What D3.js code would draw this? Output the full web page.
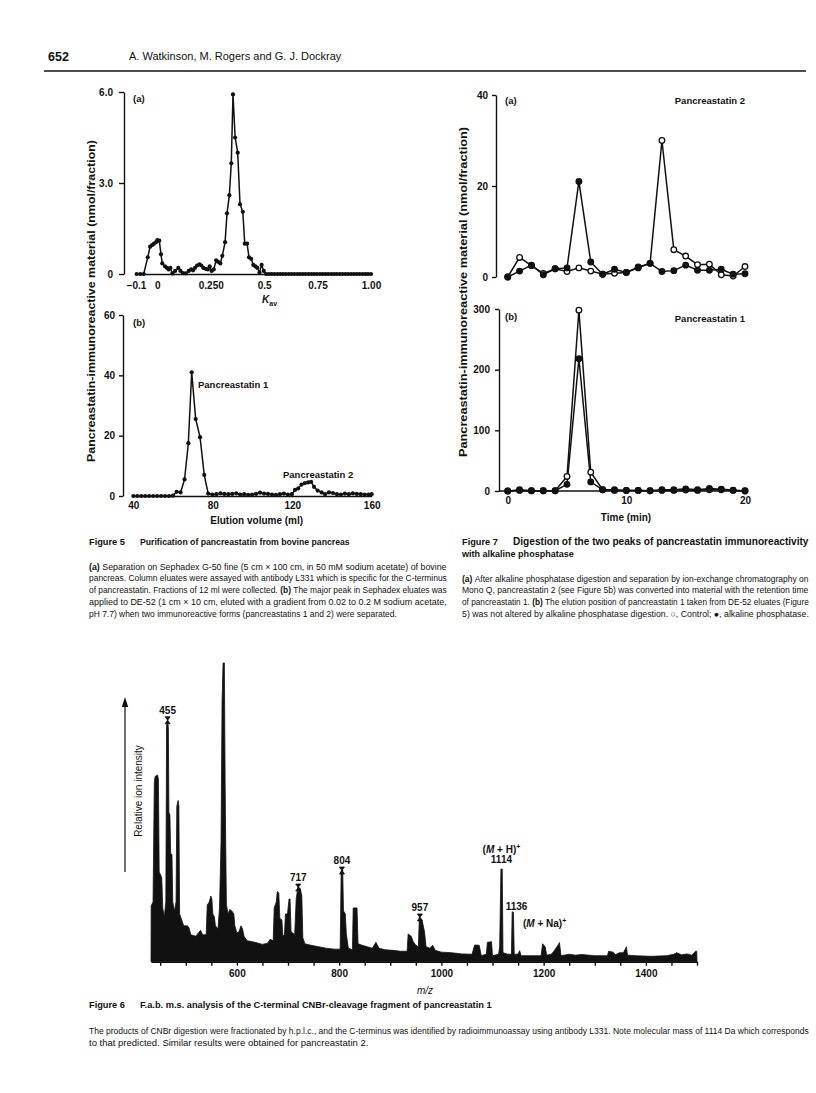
<!DOCTYPE html>
<html>
<head>
<meta charset="utf-8">
<script src="https://cdn.jsdelivr.net/npm/d3@7"></script>
<style>
  body { margin: 0; background: #fff; }
  svg text { font-family: "Liberation Sans", Arial, Helvetica, sans-serif; fill: #111; }
  svg text.cap { font-family: "Liberation Sans Narrow", "Arial Narrow", "Liberation Sans", sans-serif; }
</style>
</head>
<body>
<div id="page"></div>
<script>
// Figure 5a - Sephadex G-50 elution, Kav vs immunoreactivity (nmol/fraction)
var kavA = [-0.097,-0.080,-0.064,-0.045,-0.034,-0.025,-0.016,-0.006,0.000,0.009,
  0.017,0.023,0.036,0.045,0.053,0.061,0.070,0.083,0.098,0.108,
  0.120,0.133,0.147,0.158,0.167,0.176,0.186,0.197,0.206,0.215,
  0.226,0.236,0.245,0.254,0.264,0.275,0.284,0.295,0.304,0.317,
  0.326,0.337,0.346,0.354,0.364,0.376,0.387,0.400,0.409,0.420,
  0.429,0.439,0.449,0.459,0.468,0.478,0.488,0.498,0.509,
  0.522,0.535,0.548,0.562,0.575,0.588,0.601,0.615,0.628,0.641,
  0.655,0.668,0.681,0.694,0.708,0.721,0.734,0.747,0.761,0.774,
  0.787,0.800,0.814,0.827,0.840,0.854,0.867,0.880,0.893,0.907,
  0.920,0.933,0.946,0.960,0.973,0.986,1.000];
var nmolA = [0,0,0,0.55,0.9,0.95,1.0,1.05,1.12,1.1,
  0.65,0.35,0.25,0.2,0.15,0.2,0.02,0.1,0.2,0.1,
  0.03,0.02,0.1,0.15,0.12,0.2,0.28,0.32,0.28,0.2,
  0.17,0.15,0.25,0.1,0.15,0.45,0.4,0.35,0.6,1.05,
  2.0,2.6,3.65,5.92,4.5,4.0,2.3,2.05,1.0,1.0,
  0.55,0.5,0.3,0.25,0.2,0.05,0.3,0.1,0,
  0,0,0,0,0,0,0,0,0,0,
  0,0,0,0,0,0,0,0,0,0,
  0,0,0,0,0,0,0,0,0,0,
  0,0,0,0,0,0,0];
var kavTicks = [-0.1, 0, 0.25, 0.5, 0.75, 1.0];
var kavTickLabels = ["\u22120.1", "0", "0.250", "0.5", "0.75", "1.00"];
var nmolATicks = [0, 3, 6];

// Figure 5b - DE-52 elution
var elutionMl = [40,42,44,46,48,50,52,54,56,58,60,
  61.8,63.8,65.8,67.7,69.4,71.4,73.6,75.7,77.7,79.8,
  81.8,83.8,85.8,87.8,89.8,91.8,93.8,95.8,97.8,99.8,
  101.8,103.8,105.8,107.8,109.8,111.8,113.8,115.8,117.8,119.8,
  121.4,123,124.7,126.4,128,129.5,131,132.8,134.8,136.5,
  138.5,140.5,142.5,144.5,146.5,148.5,150.5,152.5,154.5,156.5,158.5,160];
var nmolB = [0,0,0,0,0,0,0,0,0,0,0.1,
  1.4,1.2,5.5,17.5,41,25.5,19.5,7,0.8,0.5,
  0.6,0.9,0.7,0.6,0.7,0.9,0.5,0.6,0.4,0.5,
  0.7,1.1,0.8,0.7,0.5,0.4,0.6,0.8,0.5,0.6,
  2,2.5,3.8,4.3,4.5,4.7,3,1.8,1.2,0.6,
  1.2,1.0,0.6,0.5,0.8,0.6,0.9,0.7,0.6,0.5,0.5,0.6];
var elutionTicks = [40, 80, 120, 160];
var nmolBTicks = [0, 20, 40, 60];

// Figure 7 - ion-exchange after alkaline phosphatase
var timeMin = [0,1,2,3,4,5,6,7,8,9,10,11,12,13,14,15,16,17,18,19,20];
var ps2Control = [0,4.3,2.5,0.8,1.8,1.2,2.0,1.3,0.6,0.8,1.0,2.2,3.0,30,6,4.6,2.7,2.8,0.5,0.2,2.3];
var ps2Phosphatase = [0,1.3,2.6,0.5,1.8,2.0,21,3.3,0.6,1.7,1.0,2.0,3.0,1.2,1.4,2.6,1.5,1.5,1.7,0.6,0.7];
var ps1Control = [0,1,0.5,0.5,0.5,24,298,31,2,1,1,1,0.5,1,1,1.5,1,2,2,1,0.5];
var ps1Phosphatase = [0,2,0.5,0.5,0.5,11,218,15,2,2,1,1,0.5,2,2,3.5,2,4,3,1.5,0];
var ps2Ticks = [0, 20, 40];
var ps1Ticks = [0, 100, 200, 300];
var timeTicks = [0, 10, 20];

// Figure 6 - f.a.b. mass spectrum (relative intensity, tallest peak = 100)
var mz = [432,432.3,436,438.5,440,445,446.5,448,451,453,455,458,461,462.5,464.5,466,467,469,470.5,473,
  474.5,478,481,482.5,485,486.5,488,492,496,503,506,510,520,524,529,533,540,542,546,549,
  551,553,556,558,563,566,569,571,573,575.5,577,578,579.5,583,586,590,594,596,600,604,
  608,611,614,620,630,640,650,660,665,671,673,677,679,682,684,688,690,693,695,699,
  702,704,706,710,713,716,719.5,724,727,729,733,745,760,775,790,802,804,807,808.5,812,
  814,818,826,827.5,835,837,845,855,865,872,878,890,905,920,933,935,941,945,950,955,
  957,962,964,967,970,978,983,988,1000,1020,1040,1060,1065,1074,1078,1088,1090,1098,1100,1112,
  1114,1116.5,1119,1120.5,1130,1137,1138.5,1141,1142.5,1150,1153,1156,1195,1198,1203,1206,1215,1220,1228,1231,
  1234,1250,1262,1275,1300,1325,1327,1336,1340,1348,1356,1362,1364,1380,1410,1440,1455,1460,1470,1480,
  1490,1497,1499.5,1500];
var intensity = [0,18.7,20,60,62,62.5,61,30,29,28,18,15,20,79,81,78,50,49,36,36,
  20,17,20,52,54,52,16,14,12,12,11.5,9,8.5,9.5,10.5,9,9,19,20,22,
  21,16,15,12,11,18,40,87,100,100,60,42,19,16,17.5,17,16,12,9.6,10,
  12,11,8.5,7,6.7,6.3,5.8,6.2,7.5,7,18,20,23.5,23,14.5,14,8.5,9,16,16,
  21,21,10,9.5,9,21,25,24.5,22,8,6,5.5,5,4.5,4.2,4.2,30.5,30.7,17,16,
  9.5,4.5,4,18,18,6,5.5,5,4.5,6.5,4.5,4,3.8,3.5,3.5,9.3,8.5,6.7,5.5,5,
  15,14,12.5,10,5,4.5,5.5,3.8,3.2,3,2.6,2.5,5.6,5.5,2,2.5,6.5,6.7,2,2.5,
  5,31,31,3,2.5,2.5,16.7,16.5,2.5,2.5,3.7,2,2,6,5,2.2,2.5,3.5,5.5,6.4,
  2,2.5,2.2,2.4,2,2,3.5,3.2,2.3,3,3,5,2.2,2,1.8,2,2.5,3,2.3,2.6,
  2.2,3.5,3.5,0];
var mzTicks = d3.range(450, 1501, 50);
var mzLabelled = [600, 800, 1000, 1200, 1400];
var peakText = ["455", "717", "804", "957", "1114"];
var peakMz = [464.5, 720, 805.5, 958, 1117.5];

var ink = "#111";
var svg = d3.select("#page").append("svg")
  .attr("width", 816)
  .attr("height", 1093);
svg.append("rect").attr("width", 816).attr("height", 1093).attr("fill", "#fff");

function styleAxis(g, size) {
  g.selectAll("path.domain").attr("stroke", ink).attr("stroke-width", 1.4);
  g.selectAll(".tick line").attr("stroke", ink).attr("stroke-width", 1.4);
  g.selectAll(".tick text").attr("fill", ink)
    .style("font-size", (size || 10) + "px").style("font-weight", "bold");
  return g;
}

function label(x, y, txt, opts) {
  opts = opts || {};
  var t = svg.append("text").attr("x", x).attr("y", y).text(txt)
    .attr("font-size", opts.size || 9.5)
    .attr("font-weight", opts.weight || "bold")
    .attr("text-anchor", opts.anchor || "start");
  return t;
}

function yTitle(x, yc, len, txt) {
  svg.append("text")
    .attr("transform", `translate(${x},${yc}) rotate(-90)`)
    .attr("text-anchor", "middle")
    .attr("font-size", 10.5).attr("font-weight", "bold")
    .attr("textLength", len).attr("lengthAdjust", "spacingAndGlyphs")
    .text(txt);
}

// header
svg.append("text").attr("x", 48).attr("y", 61).attr("font-size", 12.5).attr("font-weight", "bold").text("652");
svg.append("text").attr("x", 129).attr("y", 60).attr("font-size", 11).text("A. Watkinson, M. Rogers and G. J. Dockray");
svg.append("line").attr("x1", 44).attr("x2", 806).attr("y1", 71).attr("y2", 71)
  .attr("stroke", ink).attr("stroke-width", 1.4);

// ---------- Figure 5a
var x5a = d3.scaleLinear().domain([-0.1, 1.0]).range([136, 371]);
var y5a = d3.scaleLinear().domain([0, 6]).range([274, 92]);

styleAxis(svg.append("g").attr("transform", "translate(124,0)")
  .call(d3.axisLeft(y5a).tickValues(nmolATicks).tickFormat(d => d === 0 ? "0" : d.toFixed(1))
    .tickSize(5).tickSizeOuter(0).tickPadding(6)));
styleAxis(svg.append("g").attr("transform", `translate(0,${y5a(0)})`)
  .call(d3.axisBottom(x5a).tickValues(kavTicks).tickFormat((d, i) => kavTickLabels[i])
    .tickSize(0).tickSizeOuter(0).tickPadding(8)));

var line5a = d3.line().x(d => x5a(d[0])).y(d => y5a(d[1]));
var pts5a = d3.zip(kavA, nmolA);
svg.append("path").datum(pts5a).attr("d", line5a)
  .attr("fill", "none").attr("stroke", ink).attr("stroke-width", 1.5);
svg.append("g").selectAll("circle").data(pts5a).join("circle")
  .attr("cx", d => x5a(d[0])).attr("cy", d => y5a(d[1])).attr("r", 2.1).attr("fill", ink);

label(133, 101.5, "(a)");
var kav = svg.append("text").attr("x", 262).attr("y", 303).attr("font-size", 10).attr("font-weight", "bold");
kav.append("tspan").attr("font-style", "italic").text("K");
kav.append("tspan").attr("font-size", 7).attr("dy", 3).text("av");

// ---------- Figure 5b
var x5b = d3.scaleLinear().domain([40, 160]).range([133.3, 371.7]);
var y5b = d3.scaleLinear().domain([0, 60]).range([496, 315]);

styleAxis(svg.append("g").attr("transform", "translate(123,0)")
  .call(d3.axisLeft(y5b).tickValues(nmolBTicks).tickSize(4).tickSizeOuter(0).tickPadding(4)));
styleAxis(svg.append("g").attr("transform", `translate(0,${y5b(0)})`)
  .call(d3.axisBottom(x5b).tickValues(elutionTicks).tickSize(0).tickSizeOuter(0).tickPadding(6)));

var pts5b = d3.zip(elutionMl, nmolB);
svg.append("path").datum(pts5b)
  .attr("d", d3.line().x(d => x5b(d[0])).y(d => y5b(d[1])))
  .attr("fill", "none").attr("stroke", ink).attr("stroke-width", 1.5);
svg.append("g").selectAll("circle").data(pts5b).join("circle")
  .attr("cx", d => x5b(d[0])).attr("cy", d => y5b(d[1])).attr("r", 2.1).attr("fill", ink);

label(133, 325.5, "(b)");
label(198, 387.5, "Pancreastatin 1");
label(283, 477.5, "Pancreastatin 2");
label(256.7, 523.5, "Elution volume (ml)", { anchor: "middle", size: 10 });

yTitle(95, 301, 322, "Pancreastatin-immunoreactive material (nmol/fraction)");

// ---------- Figure 7
var x7 = d3.scaleLinear().domain([0, 20]).range([507.7, 745]);
var y7a = d3.scaleLinear().domain([0, 40]).range([277, 95]);
var y7b = d3.scaleLinear().domain([0, 300]).range([491, 309]);

styleAxis(svg.append("g").attr("transform", "translate(496,0)")
  .call(d3.axisLeft(y7a).tickValues(ps2Ticks).tickSize(4).tickSizeOuter(0).tickPadding(4)));
styleAxis(svg.append("g").attr("transform", "translate(499,0)")
  .call(d3.axisLeft(y7b).tickValues(ps1Ticks).tickSize(4).tickSizeOuter(0).tickPadding(5)));
var ax7 = styleAxis(svg.append("g").attr("transform", `translate(0,${y7b(0)})`)
  .call(d3.axisBottom(x7).tickValues(timeTicks).tickSize(3).tickSizeOuter(0).tickPadding(3)));
ax7.select("path.domain").remove();
svg.append("line").attr("x1", 499).attr("x2", 747).attr("y1", y7b(0)).attr("y2", y7b(0))
  .attr("stroke", ink).attr("stroke-width", 1.4);

function drawSeries(values, yScale) {
  var pts = d3.zip(timeMin, values);
  svg.append("path").datum(pts)
    .attr("d", d3.line().x(d => x7(d[0])).y(d => yScale(d[1])))
    .attr("fill", "none").attr("stroke", ink).attr("stroke-width", 1.5);
  return pts;
}
function drawMarks(pts, yScale, open) {
  svg.append("g").selectAll("circle").data(pts).join("circle")
    .attr("cx", d => x7(d[0])).attr("cy", d => yScale(d[1])).attr("r", 2.8)
    .attr("fill", open ? "#fff" : ink).attr("stroke", ink).attr("stroke-width", 1.3);
}
var a1 = drawSeries(ps2Control, y7a), a2 = drawSeries(ps2Phosphatase, y7a);
drawMarks(a1, y7a, true); drawMarks(a2, y7a, false);
var b1 = drawSeries(ps1Control, y7b), b2 = drawSeries(ps1Phosphatase, y7b);
drawMarks(b1, y7b, true); drawMarks(b2, y7b, false);

label(505, 104, "(a)");
label(745, 104, "Pancreastatin 2", { anchor: "end" });
label(505, 320, "(b)");
label(745, 321.5, "Pancreastatin 1", { anchor: "end" });
label(626, 520.5, "Time (min)", { anchor: "middle", size: 10 });
yTitle(467, 292, 330, "Pancreastatin-immunoreactive material (nmol/fraction)");

// ---------- Figure 6
var x6 = d3.scaleLinear().domain([432, 1500]).range([151, 697]);
var y6 = d3.scaleLinear().domain([0, 100]).range([961.7, 663]);
var spec = d3.zip(mz, intensity);

svg.append("path").datum(spec)
  .attr("d", d3.area().x(d => x6(d[0])).y0(y6(0)).y1(d => y6(d[1])))
  .attr("fill", ink).attr("stroke", ink).attr("stroke-width", 0.8);

styleAxis(svg.append("g").attr("transform", `translate(0,${y6(0)})`)
  .call(d3.axisBottom(x6).tickValues(mzTicks)
    .tickFormat(d => mzLabelled.indexOf(d) >= 0 ? d : "")
    .tickSize(4).tickSizeOuter(0).tickPadding(4)));

peakText.forEach(function (t, i) {
  var m = peakMz[i];
  var top = d3.max(spec.filter(d => Math.abs(d[0] - m) < 3), d => d[1]);
  var px = x6(m), py = y6(top);
  label(px, py - 6, t, { anchor: "middle", size: 10 });
  if (i < 4) {
    svg.append("path")
      .attr("d", `M${px - 2.5},${py - 3}L${px + 2.5},${py - 3}L${px - 2.5},${py + 4}L${px + 2.5},${py + 4}Z`)
      .attr("fill", ink).attr("stroke", ink).attr("stroke-width", 0.8);
  }
  if (t === "1114") {
    var mh = label(px, py - 16, "", { anchor: "middle", size: 10 });
    mh.append("tspan").text("(");
    mh.append("tspan").attr("font-style", "italic").text("M");
    mh.append("tspan").text(" + H)");
    mh.append("tspan").attr("font-size", 7).attr("dy", -4).text("+");
  }
});
label(x6(1147), 910, "1136", { anchor: "middle", size: 10 });
var mna = label(x6(1202), 927, "", { anchor: "middle", size: 10 });
mna.append("tspan").text("(");
mna.append("tspan").attr("font-style", "italic").text("M");
mna.append("tspan").text(" + Na)");
mna.append("tspan").attr("font-size", 7).attr("dy", -4).text("+");

svg.append("text").attr("x", 425).attr("y", 994).attr("text-anchor", "middle")
  .attr("font-size", 10).attr("font-style", "italic").text("m/z");

// intensity arrow
svg.append("line").attr("x1", 125).attr("x2", 125).attr("y1", 872).attr("y2", 704)
  .attr("stroke", ink).attr("stroke-width", 1.2);
svg.append("path").attr("d", "M125,697L121.8,707L128.2,707Z").attr("fill", ink);
svg.append("text").attr("transform", "translate(142,791) rotate(-90)")
  .attr("text-anchor", "middle").attr("font-size", 10).text("Relative ion intensity");

// ---------- captions
// each part becomes its own text; font size is shrunk so the line fits `width`
function capLine(x, y, width, parts, size) {
  size = size || 9.5;
  var els = parts.map(function (p) {
    return svg.append("text").attr("class", "cap").attr("y", y)
      .attr("font-size", size)
      .attr("font-weight", p[1] ? "bold" : null)
      .text(p[0]);
  });
  var natural = els.map(e => e.node().getComputedTextLength());
  var k = Math.min(1, width / d3.sum(natural));
  var cx = x;
  els.forEach(function (e, i) {
    e.attr("x", cx).attr("font-size", size * k);
    cx += natural[i] * k;
  });
}

// Figure 5 caption
capLine(89, 544.5, 36, [["Figure 5", 1]], 9.5);
capLine(140, 544.5, 210, [["Purification of pancreastatin from bovine pancreas", 1]], 10.5);
capLine(89, 569.5, 358, [["(a)", 1], ["\u00a0Separation on Sephadex G-50 fine (5 cm \u00d7 100 cm, in 50 mM sodium acetate) of bovine"]]);
capLine(89, 581.3, 358, [["pancreas. Column eluates were assayed with antibody L331 which is specific for the C-terminus"]]);
capLine(89, 593.1, 358, [["of pancreastatin. Fractions of 12 ml were collected.\u00a0"], ["(b)", 1], ["\u00a0The major peak in Sephadex eluates was"]]);
capLine(89, 604.9, 358, [["applied to DE-52 (1 cm \u00d7 10 cm, eluted with a gradient from 0.02 to 0.2 M sodium acetate,"]]);
capLine(89, 616.7, 308, [["pH 7.7) when two immunoreactive forms (pancreastatins 1 and 2) were separated."]]);

// Figure 7 caption
capLine(462, 544.5, 36, [["Figure 7", 1]], 9.5);
capLine(513, 544.5, 296, [["Digestion of the two peaks of pancreastatin immunoreactivity", 1]], 10.5);
capLine(462, 556.5, 112, [["with alkaline phosphatase", 1]], 10.5);
capLine(462, 581.5, 347, [["(a)", 1], ["\u00a0After alkaline phosphatase digestion and separation by ion-exchange chromatography on"]]);
capLine(462, 593.3, 347, [["Mono Q, pancreastatin 2 (see Figure 5b) was converted into material with the retention time"]]);
capLine(462, 605.1, 347, [["of pancreastatin 1.\u00a0"], ["(b)", 1], ["\u00a0The elution position of pancreastatin 1 taken from DE-52 eluates (Figure"]]);
capLine(462, 616.9, 347, [["5) was not altered by alkaline phosphatase digestion. \u25cb, Control; \u25cf, alkaline phosphatase."]]);

// Figure 6 caption
capLine(89, 1008, 36, [["Figure 6", 1]], 9.5);
capLine(140, 1008, 352, [["F.a.b. m.s. analysis of the C-terminal CNBr-cleavage fragment of pancreastatin 1", 1]], 10.5);
capLine(89, 1033.5, 720, [["The products of CNBr digestion were fractionated by h.p.l.c., and the C-terminus was identified by radioimmunoassay using antibody L331. Note molecular mass of 1114 Da which corresponds"]]);
capLine(89, 1045.5, 287, [["to that predicted. Similar results were obtained for pancreastatin 2."]]);
</script>
</body>
</html>
